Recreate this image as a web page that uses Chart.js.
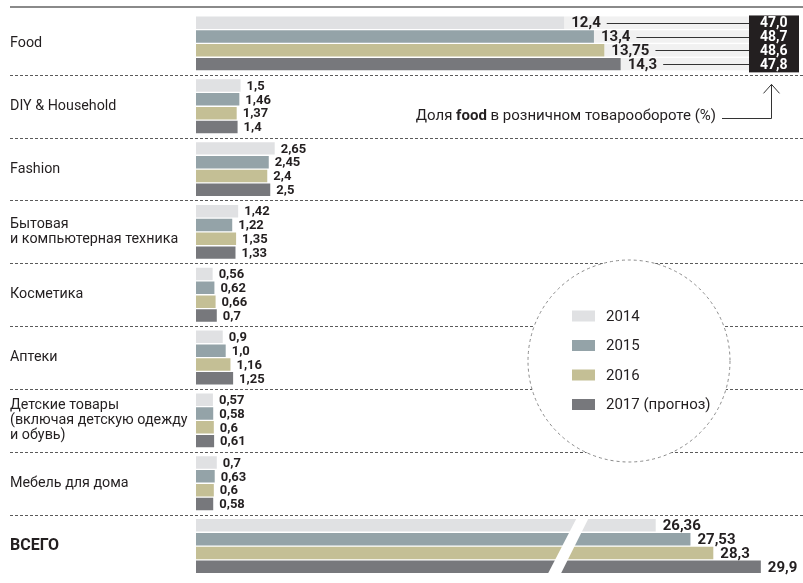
<!DOCTYPE html>
<html>
<head>
<meta charset="utf-8">
<script src="https://cdn.jsdelivr.net/npm/chart.js@4.4.1/dist/chart.umd.min.js"></script>
<style>
  html, body { margin: 0; padding: 0; background: #fff; overflow: hidden; }
  #wrap { position: relative; width: 803px; height: 585px; }
</style>
</head>
<body>
<div id="wrap"><canvas id="chart"></canvas></div>
<script>
// Retail segments, bn (four years) + food share in retail turnover

const categories = [
    'Food',
    'DIY & Household',
    'Fashion',
    ['Бытовая', 'и компьютерная техника'],
    'Косметика',
    'Аптеки',
    ['Детские товары', '(включая детскую одежду', 'и обувь)'],
    'Мебель для дома',
    'ВСЕГО'
];
const years = ['2014', '2015', '2016', '2017 (прогноз)'];
const v2014 = [12.4, 1.5, 2.65, 1.42, 0.56, 0.9, 0.57, 0.7];
const v2015 = [13.4, 1.46, 2.45, 1.22, 0.62, 1.0, 0.58, 0.63];
const v2016 = [13.75, 1.37, 2.4, 1.35, 0.66, 1.16, 0.6, 0.6];
const v2017 = [14.3, 1.4, 2.5, 1.33, 0.7, 1.25, 0.61, 0.58];
const totals = [26.36, 27.53, 28.3, 29.9];
const foodShare = [47.0, 48.7, 48.6, 47.8];
const shareNote = ['Доля ', 'food', ' в розничном товарообороте (%)'];

const barColors = ['#e0e1e3', '#94a3a8', '#c4bf95', '#77787c'];
const FONT = 'Roboto, "Liberation Sans", sans-serif';
const TEXT = '#231f20';
const BOX_LEFT = 749;
const BOX_RIGHT = 799;

Chart.defaults.font.family = FONT;
Chart.defaults.color = TEXT;

const fmt = v => (Number.isInteger(v) ? v.toFixed(1) : String(v)).replace('.', ',');

const series = [v2014, v2015, v2016, v2017];
const datasets = [];
// regular rows on the main axis
series.forEach((vals, i) => {
    datasets.push({
        label: years[i],
        data: vals.concat([null]),
        backgroundColor: barColors[i],
        xAxisID: 'x'
    });
});
// "ВСЕГО" row on a second axis with the same unit, shifted (broken axis)
totals.forEach((t, i) => {
    datasets.push({
        label: years[i] + ' total',
        data: new Array(categories.length - 1).fill(null).concat([t]),
        backgroundColor: barColors[i],
        xAxisID: 'x2'
    });
});

const xMax = 20.44;
const xShift = 10.88;

const decor = {
    id: 'decor',
    beforeDatasetsDraw(chart) {
        const {ctx, scales: {y}} = chart;
        ctx.save();
        // top rule
        ctx.strokeStyle = '#8a8a8a';
        ctx.lineWidth = 2;
        ctx.beginPath();
        ctx.moveTo(10, 7);
        ctx.lineTo(chart.width, 7);
        ctx.stroke();
        // dashed separators between rows
        ctx.strokeStyle = '#5a5a5a';
        ctx.lineWidth = 1;
        ctx.setLineDash([3, 2]);
        for (let i = 0; i < categories.length - 1; i++) {
            const yy = Math.round((y.getPixelForValue(i) + y.getPixelForValue(i + 1)) / 2) + 0.5;
            ctx.beginPath();
            ctx.moveTo(10, yy);
            ctx.lineTo(chart.width, yy);
            ctx.stroke();
        }
        ctx.setLineDash([]);
        // light strips behind the food labels
        ctx.fillStyle = '#f1f1f1';
        for (let d = 0; d < 4; d++) {
            const bar = chart.getDatasetMeta(d).data[0];
            ctx.fillRect(bar.x, bar.y - bar.height / 2, BOX_LEFT - bar.x, bar.height);
        }
        ctx.restore();
    },
    afterDatasetsDraw(chart) {
        const {ctx} = chart;
        ctx.save();
        ctx.textBaseline = 'middle';
        ctx.textAlign = 'left';

        // value labels
        chart.data.datasets.forEach((ds, d) => {
            const meta = chart.getDatasetMeta(d);
            meta.data.forEach((bar, i) => {
                const v = ds.data[i];
                if (v === null) return;
                const big = (i === 0 || i === categories.length - 1);
                ctx.font = 'bold ' + (big ? 15 : 13) + 'px ' + FONT;
                ctx.fillStyle = TEXT;
                const lx = bar.x + (big ? 7 : 6);
                const ly = bar.y + 1;
                const txt = fmt(v);
                ctx.fillText(txt, lx, ly);
                if (i === 0) {
                    // leader line to the food share box
                    const w = ctx.measureText(txt).width;
                    ctx.strokeStyle = '#333';
                    ctx.lineWidth = 1;
                    ctx.beginPath();
                    ctx.moveTo(lx + w + 6, Math.round(bar.y) + 0.5);
                    ctx.lineTo(BOX_LEFT, Math.round(bar.y) + 0.5);
                    ctx.stroke();
                }
            });
        });

        // food share box
        const first = chart.getDatasetMeta(0).data[0];
        const last = chart.getDatasetMeta(3).data[0];
        const top = first.y - first.height / 2 - 1;
        const bottom = last.y + last.height / 2 + 2;
        ctx.fillStyle = '#231f20';
        ctx.fillRect(BOX_LEFT, top, BOX_RIGHT - BOX_LEFT, bottom - top);
        ctx.fillStyle = '#fff';
        ctx.font = 'bold 14px ' + FONT;
        for (let d = 0; d < 4; d++) {
            const bar = chart.getDatasetMeta(d).data[0];
            ctx.fillText(fmt(foodShare[d]), BOX_LEFT + 11, bar.y + 1);
        }

        // note with arrow pointing to the box
        const arrowX = BOX_LEFT + 22;
        const noteY = 116;
        ctx.fillStyle = TEXT;
        const parts = shareNote.map((t, k) => ({t, f: (k === 1 ? 'bold ' : '') + '15px ' + FONT}));
        let total = 0;
        parts.forEach(p => { ctx.font = p.f; p.w = ctx.measureText(p.t).width; total += p.w; });
        let tx = arrowX - 55 - total;
        parts.forEach(p => { ctx.font = p.f; ctx.fillText(p.t, tx, noteY); tx += p.w; });
        ctx.strokeStyle = '#333';
        ctx.lineWidth = 1;
        ctx.beginPath();
        ctx.moveTo(arrowX - 49, noteY + 2.5);
        ctx.lineTo(arrowX + 0.5, noteY + 2.5);
        ctx.lineTo(arrowX + 0.5, bottom + 12);
        ctx.moveTo(arrowX - 7.5, bottom + 21);
        ctx.lineTo(arrowX + 0.5, bottom + 12);
        ctx.lineTo(arrowX + 8.5, bottom + 21);
        ctx.stroke();

        // axis break on the total row
        const tb = chart.getDatasetMeta(4).data[categories.length - 1];
        const bb = chart.getDatasetMeta(7).data[categories.length - 1];
        const bt = tb.y - tb.height / 2 - 1;
        const bbm = bb.y + bb.height / 2 + 3;
        const bx = chart.scales.x2.getPixelForValue(23.7);
        ctx.fillStyle = '#fff';
        ctx.beginPath();
        ctx.moveTo(bx, bt);
        ctx.lineTo(bx + 12, bt);
        ctx.lineTo(bx - 17, bbm);
        ctx.lineTo(bx - 30, bbm);
        ctx.closePath();
        ctx.fill();

        // legend in a dashed circle
        const cx = 629, cy = 361, r = 101;
        ctx.beginPath();
        ctx.arc(cx, cy, r, 0, Math.PI * 2);
        ctx.fillStyle = '#fff';
        ctx.fill();
        ctx.setLineDash([3, 3]);
        ctx.strokeStyle = '#8a8a8a';
        ctx.lineWidth = 1;
        ctx.stroke();
        ctx.setLineDash([]);
        ctx.font = '15px ' + FONT;
        years.forEach((lab, k) => {
            const ly = cy - 45 + k * 29.5;
            ctx.fillStyle = barColors[k];
            ctx.fillRect(cx - 57, ly - 5.5, 23, 11);
            ctx.fillStyle = TEXT;
            ctx.fillText(lab, cx - 23, ly + 1);
        });
        ctx.restore();
    }
};

new Chart(document.getElementById('chart'), {
    type: 'bar',
    data: { labels: categories, datasets: datasets },
    options: {
        indexAxis: 'y',
        responsive: true,
        maintainAspectRatio: false,
        animation: false,
        skipNull: true,
        categoryPercentage: 0.88,
        barPercentage: 0.9,
        layout: { padding: { left: 10, top: 12, right: 0, bottom: 0 } },
        plugins: {
            legend: { display: false },
            tooltip: { enabled: false }
        },
        scales: {
            x: { display: false, min: 0, max: xMax },
            x2: { display: false, min: xShift, max: xShift + xMax, axis: 'x', type: 'linear' },
            y: {
                grid: { display: false },
                border: { display: false },
                afterFit: scale => { scale.width = 186; },
                ticks: {
                    autoSkip: false,
                    crossAlign: 'far',
                    padding: 0,
                    color: TEXT,
                    font: ctx => ctx.index === categories.length - 1
                        ? { size: 16, weight: 'bold', lineHeight: 1.1 }
                        : { size: 14.3, lineHeight: 1.05 }
                }
            }
        }
    },
    plugins: [decor]
});
</script>
</body>
</html>
